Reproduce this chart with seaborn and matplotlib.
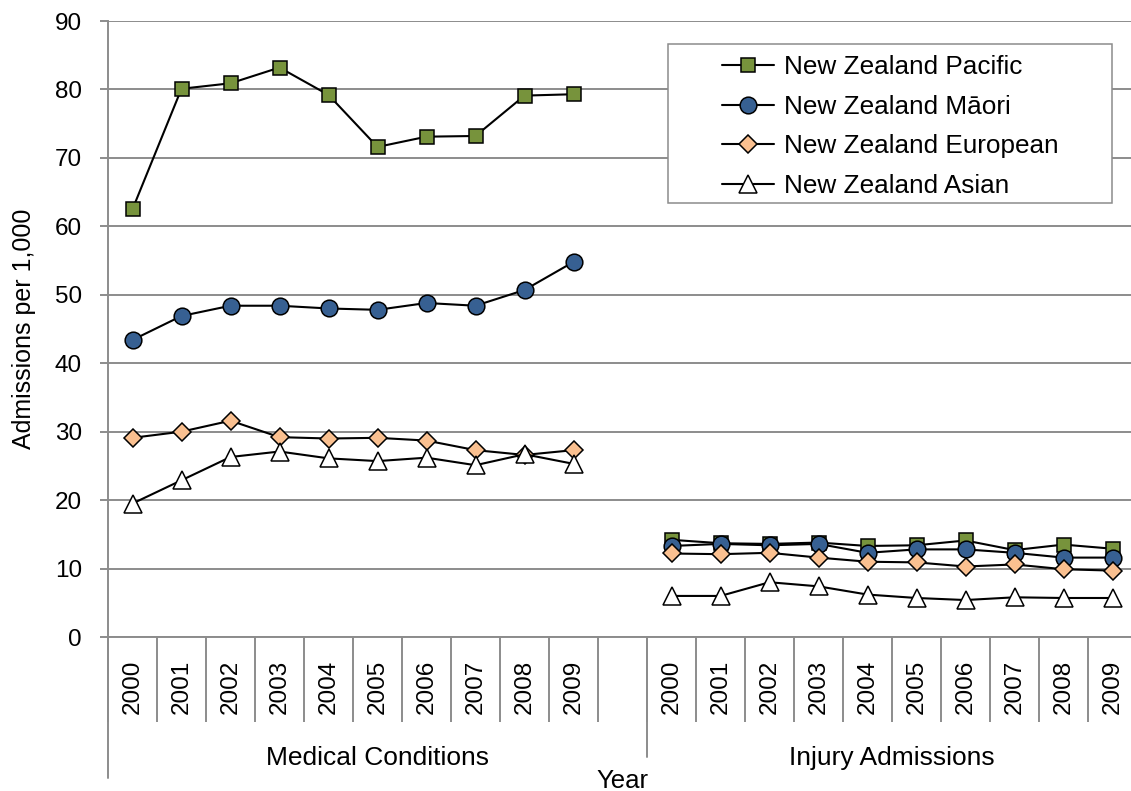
import matplotlib
matplotlib.use("Agg")
import matplotlib.pyplot as plt
import pandas as pd
import seaborn as sns
from matplotlib.lines import Line2D
from matplotlib.patches import Rectangle

# ---- data -------------------------------------------------------------
years = ["2000", "2001", "2002", "2003", "2004",
         "2005", "2006", "2007", "2008", "2009"]
groups = ["Medical Conditions", "Injury Admissions"]
series = ["New Zealand Pacific", "New Zealand Māori",
          "New Zealand European", "New Zealand Asian"]

pacific_medical = [62.5, 80.1, 80.9, 83.2, 79.2, 71.6, 73.1, 73.2, 79.1, 79.3]
maori_medical = [43.4, 46.9, 48.4, 48.4, 48.0, 47.8, 48.8, 48.4, 50.7, 54.8]
european_medical = [29.1, 30.0, 31.6, 29.2, 29.0, 29.1, 28.7, 27.3, 26.6, 27.3]
asian_medical = [19.5, 22.9, 26.3, 27.1, 26.1, 25.7, 26.2, 25.1, 26.7, 25.3]

pacific_injury = [14.2, 13.7, 13.6, 13.8, 13.3, 13.4, 14.1, 12.7, 13.5, 12.9]
maori_injury = [13.3, 13.6, 13.4, 13.6, 12.3, 12.8, 12.8, 12.3, 11.6, 11.6]
european_injury = [12.2, 12.1, 12.3, 11.6, 11.0, 10.9, 10.3, 10.6, 9.9, 9.7]
asian_injury = [6.0, 6.0, 8.0, 7.4, 6.2, 5.7, 5.4, 5.8, 5.7, 5.7]

values = {
    ("New Zealand Pacific", "Medical Conditions"): pacific_medical,
    ("New Zealand Māori", "Medical Conditions"): maori_medical,
    ("New Zealand European", "Medical Conditions"): european_medical,
    ("New Zealand Asian", "Medical Conditions"): asian_medical,
    ("New Zealand Pacific", "Injury Admissions"): pacific_injury,
    ("New Zealand Māori", "Injury Admissions"): maori_injury,
    ("New Zealand European", "Injury Admissions"): european_injury,
    ("New Zealand Asian", "Injury Admissions"): asian_injury,
}

# long table; an empty slot separates the two groups
step = len(years) + 1
rows = []
for gi, g in enumerate(groups):
    for s in series:
        for yi, y in enumerate(years):
            rows.append({"series": s, "group": g, "year": y,
                         "pos": gi * step + yi,
                         "value": values[(s, g)][yi]})
df = pd.DataFrame(rows)
n_slots = len(groups) * step - 1

# ---- style ------------------------------------------------------------
styles = {
    "New Zealand Pacific": dict(marker="s", markersize=10.5, markerfacecolor="#77933C"),
    "New Zealand Māori": dict(marker="o", markersize=12, markerfacecolor="#376092"),
    "New Zealand European": dict(marker="D", markersize=9.3, markerfacecolor="#FAC090"),
    "New Zealand Asian": dict(marker="^", markersize=13.5, markerfacecolor="white"),
}
GRID = "#8c8c8c"

sns.set_theme(style="white")
plt.rcParams["font.family"] = ["Liberation Sans", "DejaVu Sans"]
plt.rcParams["text.color"] = "black"

fig = plt.figure(figsize=(11.31, 7.91), dpi=100)
W, H = 1131, 791
ax = fig.add_axes([108 / W, 1 - 637 / H, 1029 / W, 616 / H])

for s in series:
    for g in groups:
        sub = df[(df["series"] == s) & (df["group"] == g)]
        sns.lineplot(data=sub, x="pos", y="value", ax=ax, color="black",
                     linewidth=1.5, markeredgecolor="black", markeredgewidth=1.1,
                     estimator=None, sort=False, legend=False, zorder=3,
                     **styles[s])

# ---- axes -------------------------------------------------------------
ax.set_xlim(-0.5, n_slots - 0.5)
ax.set_ylim(0, 90)
ax.set_yticks(range(0, 91, 10))
ax.yaxis.grid(True, color=GRID, linewidth=1.4)
ax.xaxis.grid(False)
ax.set_axisbelow(True)
for side in ("top", "right"):
    ax.spines[side].set_visible(False)
for side in ("left", "bottom"):
    ax.spines[side].set_color(GRID)
    ax.spines[side].set_linewidth(1.4)

ax.tick_params(axis="y", left=True, length=5.8, width=1.4, color=GRID,
               labelsize=17.5, labelcolor="black", pad=13)

pos_major = df.drop_duplicates("pos").sort_values("pos")
ax.set_xticks(pos_major["pos"].tolist())
ax.set_xticklabels(pos_major["year"].tolist(), rotation=90)
ax.tick_params(axis="x", which="major", length=0, labelsize=17.5,
               labelcolor="black", pad=16.5)
ax.set_xticks([p - 0.5 for p in range(n_slots + 1)], minor=True)
ax.tick_params(axis="x", which="minor", bottom=True, length=61, width=1.4,
               color=GRID, direction="out")
ax.set_xlabel("")
ax.set_ylabel("")

# longer separators bounding the two category groups
xt = ax.get_xaxis_transform()
bounds = [-0.5, len(years) + 0.5, n_slots - 0.5]
ax.plot([bounds[0]] * 2, [0, -141 / 616], transform=xt, color=GRID, lw=1.4,
        clip_on=False)
ax.plot([bounds[1]] * 2, [0, -120 / 616], transform=xt, color=GRID,
        lw=1.4, clip_on=False)

for gi, g in enumerate(groups):
    center = (bounds[gi] + bounds[gi + 1]) / 2
    ax.text(center, -(758 - 637) / 616, g, transform=xt, ha="center",
            va="center", fontsize=19, color="black")

ax.text(0.5, -(781 - 637) / 616, "Year", transform=ax.transAxes,
        ha="center", va="center", fontsize=18.5, color="black")
ax.text(-(108 - 24) / 1029, 0.5, "Admissions per 1,000", transform=ax.transAxes,
        rotation=90, ha="center", va="center", fontsize=18, color="black")

# ---- legend -----------------------------------------------------------
fig.add_artist(Rectangle((668 / W, 1 - 203 / H), 444 / W, 159 / H,
                         transform=fig.transFigure, facecolor="white",
                         edgecolor=GRID, linewidth=1.1, zorder=3))
handles = [Line2D([], [], color="black", linewidth=1.5, markeredgecolor="black",
                  markeredgewidth=1.1, **styles[s]) for s in series]
leg = fig.legend(handles, series, loc="upper left",
                 bbox_to_anchor=(722 / W, 1 - 55 / H), frameon=False,
                 borderpad=0, borderaxespad=0, handlelength=2.0,
                 handletextpad=0.36, labelspacing=0.6, fontsize=18.8,
                 labelcolor="black")
leg.set_zorder(5)

fig.savefig("out.png", dpi=100)
